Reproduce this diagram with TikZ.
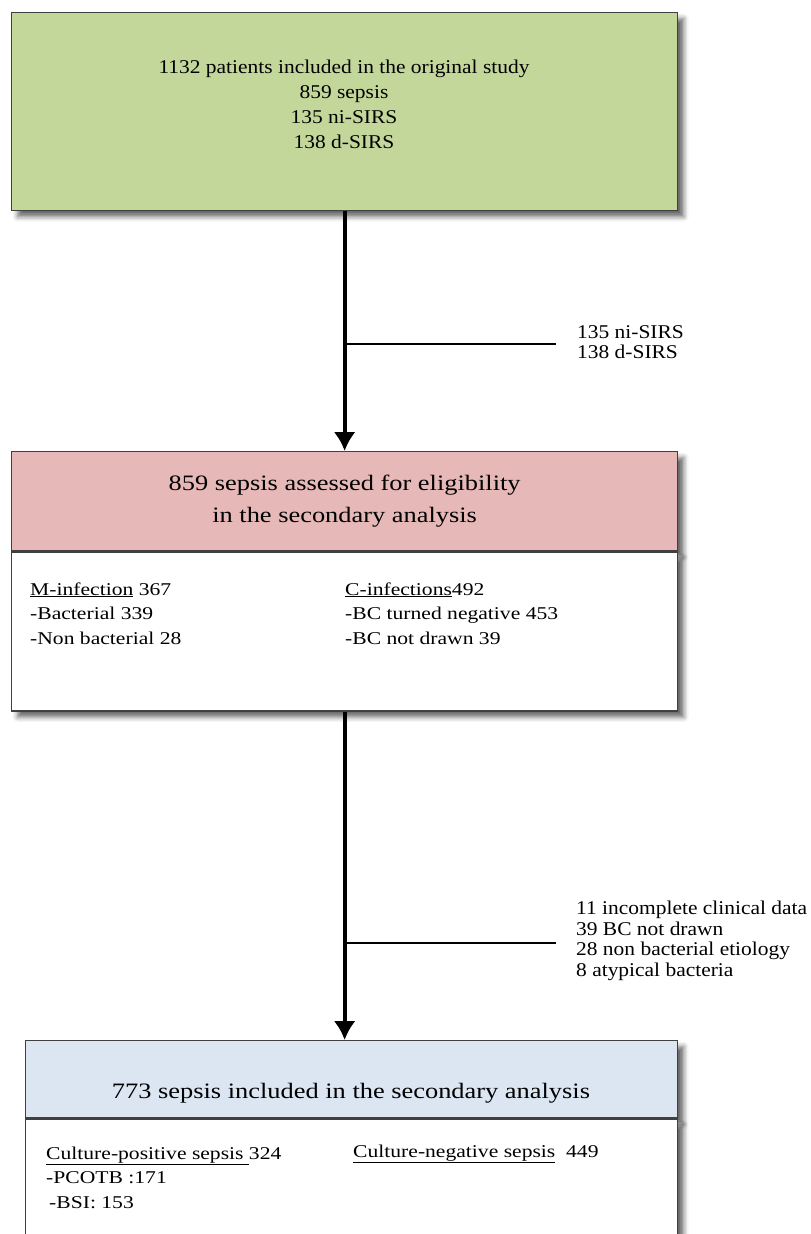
\documentclass[tikz,border=0pt]{standalone}
\usepackage{fontspec}
\setmainfont{Liberation Serif}
\newfontfamily\boxfont[FakeStretch=1.2]{Liberation Serif}
\newfontfamily\notefont[FakeStretch=1.1]{Liberation Serif}
\usetikzlibrary{arrows.meta,shadows.blur}
\definecolor{boxgreen}{RGB}{196,215,155}
\definecolor{boxpink}{RGB}{230,185,184}
\definecolor{boxblue}{RGB}{220,230,242}
\definecolor{edgegrey}{RGB}{64,64,64}

\begin{document}
\begin{tikzpicture}[x=1pt, y=-1pt,
	box/.style={draw=edgegrey, line width=1.3pt, minimum width=666pt, anchor=north west, inner sep=0pt,
		blur shadow={shadow xshift=6pt, shadow yshift=-6pt, shadow blur radius=5pt, shadow opacity=60}},
	flow/.style={line width=4.2pt, -{Latex[width=22pt,length=19pt]}},
	drop/.style={line width=1.8pt},
	note/.style={font=\notefont\fontsize{19.5}{20.5}\selectfont, align=left, anchor=west, inner sep=0pt},
	head/.style={font=\boxfont\fontsize{22}{32}\selectfont, align=center, inner sep=0pt},
	list/.style={font=\boxfont\fontsize{18}{24.5}\selectfont, align=left, anchor=base west, inner sep=0pt}]
	\clip (0,0) rectangle (811,1234);
	% original study
	\node[box, fill=boxgreen, minimum height=198pt] (study) at (11,12) {};
	\node[font=\notefont\fontsize{19.5}{25}\selectfont, align=center, inner sep=0pt] (studytxt) at (344,104) {1132 patients included in the original study\\859 sepsis\\135 ni-SIRS\\138 d-SIRS};
	% eligibility
	\node[box, fill=boxpink, minimum height=99pt] (elig) at (11,451) {};
	\node[box, fill=white, minimum height=159pt] (eligbody) at (elig.south west) {};
	\node[head] (eligtxt) at (elig) {859 sepsis assessed for eligibility\\in the secondary analysis};
	% base = last line
	\node[list] (minf) at (30,644) {\underline{M-infection} 367\\-Bacterial 339\\-Non bacterial 28};
	\node[list] (cinf) at (345,644) {\underline{C-infections}492\\-BC turned negative 453\\-BC not drawn 39};
	% included
	\node[box, fill=boxblue, minimum width=652pt, minimum height=77pt] (incl) at (25,1040) {};
	\node[box, fill=white, minimum width=652pt, minimum height=150pt] (inclbody) at (incl.south west) {};
	\node[head, anchor=base] (incltxt) at (351,1098) {773 sepsis included in the secondary analysis};
	\node[list] (cpos) at (46,1208) {\underline{Culture-positive sepsis\ }324\\-PCOTB :171\\\hspace{3pt}-BSI: 153};
	\node[list] (cneg) at (353,1157) {\underline{Culture-negative sepsis}\ \ 449};
	% exclusions
	\coordinate (fork1) at (344,344);
	\coordinate (end1) at (556,344);
	\draw[drop] (fork1) -- (end1);
	\node[note] (excl1) at (577,342) {135 ni-SIRS\\138 d-SIRS};
	\coordinate (fork2) at (344,943);
	\coordinate (end2) at (556,943);
	\draw[drop] (fork2) -- (end2);
	\node[note] (excl2) at (576,941) {11 incomplete clinical data\\39 BC not drawn\\28 non bacterial etiology\\8 atypical bacteria};
	% flow
	\draw[flow] (study) -- (elig);
	\draw[flow] (eligbody) -- (eligbody.south |- incl.north);
\end{tikzpicture}
\end{document}
